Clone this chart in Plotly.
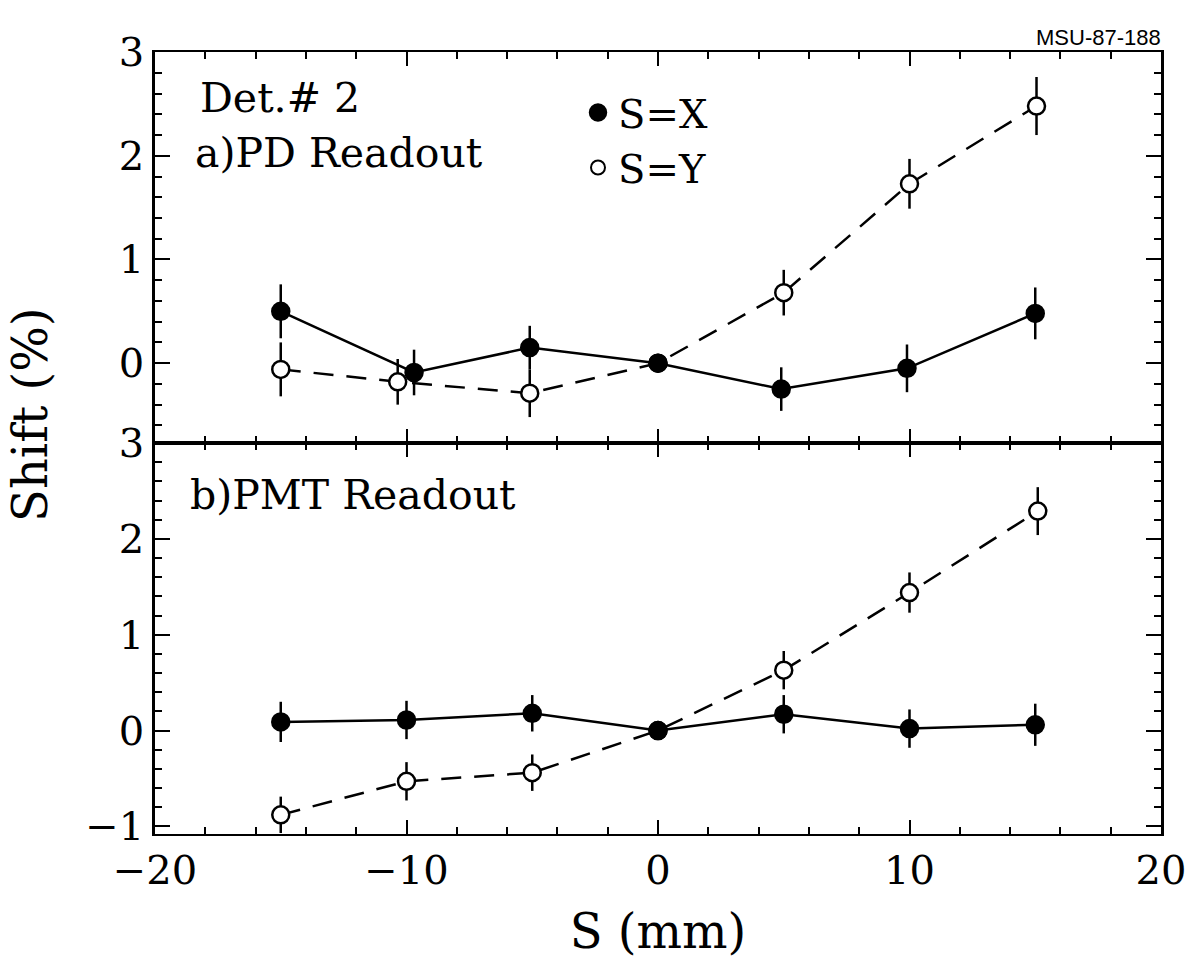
import plotly.graph_objects as go

# ---------------- data ----------------
# Panel a) PD readout
a_sx_s   = [-15.0, -9.7, -5.1, 0.0, 4.9, 9.9, 15.0]
a_sx_val = [0.50, -0.09, 0.15, 0.0, -0.25, -0.05, 0.48]
a_sx_err = [0.26, 0.22, 0.21, 0.0, 0.21, 0.23, 0.25]

a_sy_s   = [-15.0, -10.35, -5.1, 0.0, 5.0, 10.0, 15.05]
a_sy_val = [-0.06, -0.18, -0.29, 0.0, 0.68, 1.73, 2.48]
a_sy_err = [0.26, 0.22, 0.23, 0.0, 0.22, 0.24, 0.28]

# Panel b) PMT readout
b_sx_s   = [-15.0, -10.0, -5.0, 0.0, 5.0, 10.0, 15.0]
b_sx_val = [0.09, 0.11, 0.18, 0.0, 0.17, 0.02, 0.06]
b_sx_err = [0.21, 0.20, 0.19, 0.0, 0.20, 0.20, 0.22]

b_sy_s   = [-15.0, -10.0, -5.0, 0.0, 5.0, 10.0, 15.1]
b_sy_val = [-0.88, -0.53, -0.44, 0.0, 0.63, 1.44, 2.29]
b_sy_err = [0.19, 0.20, 0.19, 0.0, 0.20, 0.21, 0.25]

x_range = [-20, 20]
top_y_range = [-0.77, 3.001]
bot_y_range = [-1.08, 3.001]
top_y_ticks = [0, 1, 2, 3]
bot_y_ticks = [-1, 0, 1, 2, 3]

SERIF = "DejaVu Serif"
LW = 2.5
MS = 17

fig = go.Figure()

def add_series(xs, ys, errs, filled, xa, ya):
    fig.add_trace(go.Scatter(
        x=xs, y=ys, xaxis=xa, yaxis=ya,
        mode="lines+markers",
        line=dict(color="black", width=LW, dash="solid" if filled else "20px,13px"),
        marker=dict(symbol="circle", size=MS,
                    color="black" if filled else "white",
                    line=dict(color="black", width=2.5)),
        error_y=dict(type="data", array=errs, color="black", thickness=2.5, width=0),
        showlegend=False, hoverinfo="x+y"))

add_series(a_sy_s, a_sy_val, a_sy_err, False, "x2", "y2")
add_series(a_sx_s, a_sx_val, a_sx_err, True, "x2", "y2")
add_series(b_sy_s, b_sy_val, b_sy_err, False, "x", "y")
add_series(b_sx_s, b_sx_val, b_sx_err, True, "x", "y")

# legend entries (markers only)
fig.add_trace(go.Scatter(x=[None], y=[None], mode="markers", name="S=X",
                         marker=dict(symbol="circle", size=MS, color="black",
                                     line=dict(color="black", width=2.5))))
fig.add_trace(go.Scatter(x=[None], y=[None], mode="markers", name="S=Y",
                         marker=dict(symbol="circle", size=MS - 3, color="white",
                                     line=dict(color="black", width=2))))

XDOM = [155 / 1194, 1161 / 1194]
BOT_DOM = [(967 - 834) / 967, (967 - 443) / 967]
TOP_DOM = [(967 - 443) / 967, (967 - 52) / 967]

tickfont = dict(family=SERIF, size=40, color="black")
common_x = dict(range=x_range, dtick=10, ticks="inside", ticklen=14, tickwidth=2.2,
                tickcolor="black", showline=True, linecolor="black", linewidth=2.2,
                mirror="ticks", showgrid=False, zeroline=False,
                minor=dict(dtick=2, ticks="inside", ticklen=7, tickwidth=2,
                           tickcolor="black", showgrid=False),
                automargin=False, domain=XDOM)
common_y = dict(ticks="inside", ticklen=15, tickwidth=2.2, tickcolor="black",
                showline=True, linecolor="black", linewidth=LW, mirror="ticks",
                showgrid=False, zeroline=False,
                minor=dict(dtick=0.2, ticks="inside", ticklen=7, tickwidth=2,
                           tickcolor="black", showgrid=False),
                automargin=False, tickfont=tickfont)

fig.update_layout(
    width=1194, height=967,
    margin=dict(l=0, r=0, t=0, b=0),
    paper_bgcolor="white", plot_bgcolor="white",
    xaxis=dict(**common_x, anchor="y", tickfont=tickfont,
               title=dict(text="S (mm)", font=dict(family=SERIF, size=48, color="black"),
                          standoff=22)),
    xaxis2=dict(**common_x, anchor="y2", matches="x", showticklabels=False),
    yaxis=dict(**common_y, domain=BOT_DOM, range=bot_y_range, tickvals=bot_y_ticks,
               anchor="x"),
    yaxis2=dict(**common_y, domain=TOP_DOM, range=top_y_range, tickvals=top_y_ticks,
                anchor="x2"),
    legend=dict(x=578 / 1194, y=1 - 80 / 967, xanchor="left", yanchor="top",
                font=dict(family=SERIF, size=40, color="black"),
                bgcolor="rgba(0,0,0,0)", tracegroupgap=0, itemwidth=30),
    font=dict(family=SERIF, color="black"),
)

ann_font = dict(family=SERIF, size=41, color="black")
fig.add_annotation(text="Det.# 2", xref="paper", yref="paper", x=198 / 1194, y=1 - 98 / 967,
                   xanchor="left", yanchor="middle", showarrow=False, font=ann_font)
fig.add_annotation(text="a)PD Readout", xref="paper", yref="paper", x=193 / 1194, y=1 - 153 / 967,
                   xanchor="left", yanchor="middle", showarrow=False, font=ann_font)
fig.add_annotation(text="b)PMT Readout", xref="paper", yref="paper", x=188 / 1194, y=1 - 495 / 967,
                   xanchor="left", yanchor="middle", showarrow=False, font=ann_font)
fig.add_annotation(text="Shift (%)", xref="paper", yref="paper", x=30 / 1194, y=1 - 415 / 967,
                   xanchor="center", yanchor="middle", textangle=-90, showarrow=False,
                   font=dict(family=SERIF, size=48, color="black"))
fig.add_annotation(text="MSU-87-188", xref="paper", yref="paper", x=1098 / 1194, y=1 - 37 / 967,
                   xanchor="center", yanchor="middle", showarrow=False,
                   font=dict(family="Liberation Sans", size=22, color="black"))

fig.write_html("out.html")
